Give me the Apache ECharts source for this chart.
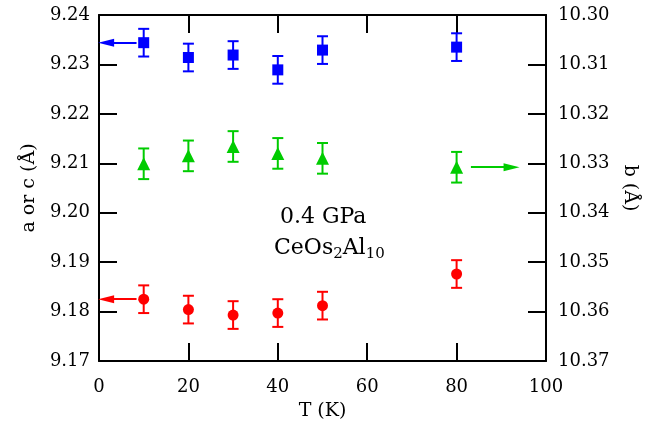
<!DOCTYPE html>
<html>
<head>
<meta charset="utf-8">
<script src="https://cdn.jsdelivr.net/npm/echarts@6/dist/echarts.min.js"></script>
<style>html,body{margin:0;padding:0;background:#fff}#c{width:658px;height:433px}</style>
</head>
<body>
<div id="c"></div>
<script>
// Temperature (K)
var temps = [10, 20, 30, 40, 50, 80];
// a (Å) - blue squares, left axis
var aValues = [9.2344, 9.2314, 9.2319, 9.2289, 9.2329, 9.2335];
var aErr = [0.0028, 0.0028, 0.0028, 0.0028, 0.0028, 0.0028];
// b (Å) - green triangles, right axis (inverted)
var bValues = [10.3301, 10.3285, 10.3266, 10.3280, 10.3290, 10.3308];
var bErr = [0.0031, 0.0031, 0.0031, 0.0031, 0.0031, 0.0031];
// c (Å) - red circles, left axis
var cValues = [9.1825, 9.1804, 9.1793, 9.1797, 9.1812, 9.1876];
var cErr = [0.0028, 0.0028, 0.0028, 0.0028, 0.0028, 0.0028];
// axis tick labels
var leftTicks = ['9.17','9.18','9.19','9.20','9.21','9.22','9.23','9.24'];
var rightTicks = ['10.30','10.31','10.32','10.33','10.34','10.35','10.36','10.37'];
// arrow x-extent (start, end) in T units
var arrowLeftX = [8.4, 1.6];
var arrowRightX = [83.2, 92.3];

var FONT = 'DejaVu Serif';
var BLUE = '#0000ff', GREEN = '#00cc00', RED = '#ff0000';

function pts(v, e) { return temps.map(function (t, i) { return [t, v[i], e[i]]; }); }

function errBar(color) {
  return function (params, api) {
    var x = api.value(0), y = api.value(1), e = api.value(2);
    var p = api.coord([x, y + e]), q = api.coord([x, y - e]);
    var w = 5.5;
    var st = { stroke: color, lineWidth: 2 };
    return { type: 'group', children: [
      { type: 'line', shape: { x1: p[0], y1: p[1], x2: q[0], y2: q[1] }, style: st },
      { type: 'line', shape: { x1: p[0] - w, y1: p[1], x2: p[0] + w, y2: p[1] }, style: st },
      { type: 'line', shape: { x1: q[0] - w, y1: q[1], x2: q[0] + w, y2: q[1] }, style: st }
    ]};
  };
}

function arrow(xs, y, color) {
  return {
    silent: true, symbol: ['none', 'triangle'], symbolSize: [8, 16],
    label: { show: false }, emphasis: { disabled: true },
    lineStyle: { color: color, width: 2, type: 'solid', opacity: 1 },
    data: [[{ coord: [xs[0], y] }, { coord: [xs[1], y] }]]
  };
}

function axisLine() { return { show: true, onZero: false, lineStyle: { color: '#000', width: 2 } }; }
function tick() { return { show: true, inside: true, length: 18, lineStyle: { color: '#000', width: 2 } }; }

var chart = echarts.init(document.getElementById('c'), null, { renderer: 'canvas' });
chart.setOption({
  animation: false,
  backgroundColor: '#fff',
  grid: { left: 99, right: 112, top: 15, bottom: 72 },
  xAxis: [
    { type: 'value', min: 0, max: 100, interval: 20, position: 'bottom',
      axisLine: axisLine(), axisTick: tick(), splitLine: { show: false },
      axisLabel: { margin: 17, fontFamily: FONT, fontSize: 18, color: '#000' },
      name: 'T (K)', nameLocation: 'middle', nameGap: 41,
      nameTextStyle: { fontFamily: FONT, fontSize: 19, color: '#000' } },
    { type: 'value', min: 0, max: 100, interval: 20, position: 'top',
      axisLine: axisLine(), axisTick: tick(), splitLine: { show: false },
      axisLabel: { show: false } }
  ],
  yAxis: [
    { type: 'value', min: 9.17, max: 9.24, interval: 0.01, position: 'left',
      axisLine: axisLine(), axisTick: tick(), splitLine: { show: false },
      axisLabel: { margin: 9, fontFamily: FONT, fontSize: 18, color: '#000',
        formatter: function (v) { return leftTicks[Math.round((v - 9.17) * 100)]; } },
      name: 'a or c (Å)', nameLocation: 'middle', nameGap: 56, nameRotate: 90,
      nameTextStyle: { fontFamily: FONT, fontSize: 19, color: '#000' } },
    { type: 'value', min: 10.30, max: 10.37, interval: 0.01, inverse: true, position: 'right',
      axisLine: axisLine(), axisTick: tick(), splitLine: { show: false },
      axisLabel: { margin: 12, fontFamily: FONT, fontSize: 18, color: '#000',
        formatter: function (v) { return rightTicks[Math.round((v - 10.30) * 100)]; } },
      name: 'b (Å)', nameLocation: 'middle', nameGap: 74, nameRotate: -90,
      nameTextStyle: { fontFamily: FONT, fontSize: 19, color: '#000' } }
  ],
  series: [
    { type: 'custom', xAxisIndex: 0, yAxisIndex: 0, data: pts(aValues, aErr), renderItem: errBar(BLUE), silent: true, z: 2 },
    { type: 'custom', xAxisIndex: 0, yAxisIndex: 1, data: pts(bValues, bErr), renderItem: errBar(GREEN), silent: true, z: 2 },
    { type: 'custom', xAxisIndex: 0, yAxisIndex: 0, data: pts(cValues, cErr), renderItem: errBar(RED), silent: true, z: 2 },
    { type: 'scatter', xAxisIndex: 0, yAxisIndex: 0, data: pts(aValues, aErr), symbol: 'rect', symbolSize: 11,
      itemStyle: { color: BLUE, opacity: 1 }, z: 3, markLine: arrow(arrowLeftX, aValues[0], BLUE) },
    { type: 'scatter', xAxisIndex: 0, yAxisIndex: 1, data: pts(bValues, bErr), symbol: 'triangle', symbolSize: 13,
      itemStyle: { color: GREEN, opacity: 1 }, z: 3, markLine: arrow(arrowRightX, bValues[5], GREEN) },
    { type: 'scatter', xAxisIndex: 0, yAxisIndex: 0, data: pts(cValues, cErr), symbol: 'circle', symbolSize: 11,
      itemStyle: { color: RED, opacity: 1 }, z: 3, markLine: arrow(arrowLeftX, cValues[0], RED) }
  ],
  graphic: [
    { type: 'text', left: 280, top: 206, style: { text: '0.4 GPa', font: '22px "DejaVu Serif"', fill: '#000' } },
    { type: 'text', left: 274, top: 237, style: {
        text: 'CeOs{s|2}Al{s|10}', font: '22px "DejaVu Serif"', fill: '#000',
        rich: { s: { fontFamily: FONT, fontSize: 15, padding: [12, 0, 0, 0], fill: '#000' } } } }
  ]
});
</script>
</body>
</html>
